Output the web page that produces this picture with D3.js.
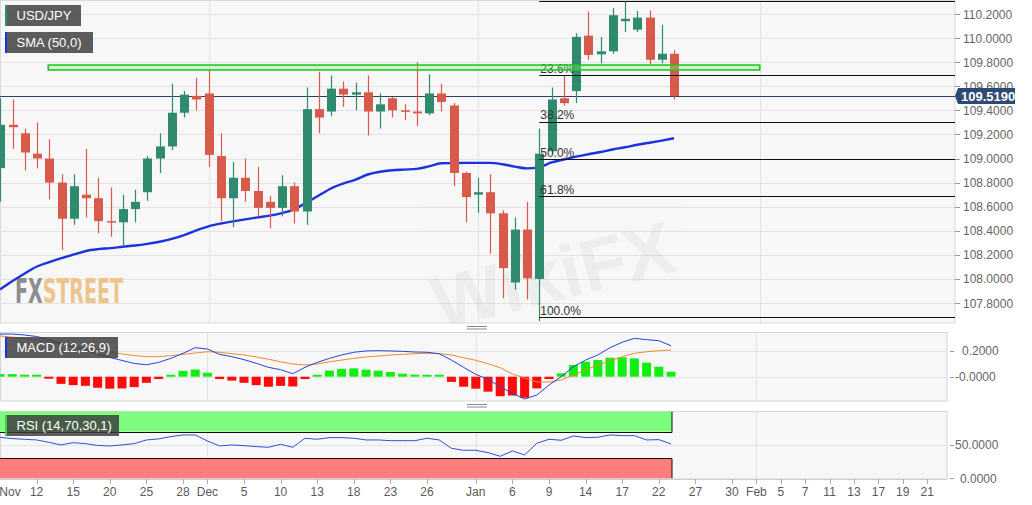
<!DOCTYPE html>
<html><head><meta charset="utf-8">
<script src="https://cdn.jsdelivr.net/npm/d3@7"></script>
<style>body{margin:0;background:#fff}svg{display:block;font-family:"Liberation Sans",Arial,sans-serif}</style>
</head><body><svg id="c" width="1032" height="505"></svg>
<script>
// ---------- DATA ----------
const dates = ["2019-11-07","2019-11-08","2019-11-11","2019-11-12","2019-11-13","2019-11-14","2019-11-15","2019-11-18","2019-11-19","2019-11-20","2019-11-21","2019-11-22","2019-11-25","2019-11-26","2019-11-27","2019-11-28","2019-11-29",
"2019-12-02","2019-12-03","2019-12-04","2019-12-05","2019-12-06","2019-12-09","2019-12-10","2019-12-11","2019-12-12","2019-12-13","2019-12-16","2019-12-17","2019-12-18","2019-12-19","2019-12-20","2019-12-23","2019-12-24","2019-12-25","2019-12-26","2019-12-27","2019-12-30","2019-12-31",
"2020-01-01","2020-01-02","2020-01-03","2020-01-06","2020-01-07","2020-01-08","2020-01-09","2020-01-10","2020-01-13","2020-01-14","2020-01-15","2020-01-16","2020-01-17","2020-01-20","2020-01-21","2020-01-22","2020-01-23"];
const openP  = [108.92,109.28,109.21,109.04,109.00,108.80,108.50,108.70,108.67,108.48,108.47,108.58,108.72,109.00,109.10,109.38,109.52,
109.54,109.02,108.67,108.84,108.73,108.64,108.59,108.77,108.56,109.41,109.39,109.58,109.53,109.55,109.39,109.50,109.40,109.39,109.375,109.54,109.44,108.88,
108.70,108.72,108.545,107.97,108.41,108.00,109.06,109.50,109.56,110.02,109.865,109.89,110.14,110.07,110.17,109.82,109.87];
const highP  = [109.50,109.49,109.25,109.30,109.16,108.87,108.87,109.08,108.84,108.76,108.70,108.74,109.02,109.21,109.62,109.56,109.67,
109.74,109.21,108.97,109.00,108.93,108.69,108.86,108.80,109.59,109.72,109.69,109.64,109.63,109.69,109.54,109.51,109.45,109.80,109.70,109.62,109.46,108.89,
108.84,108.87,108.57,108.51,108.64,109.25,109.59,109.69,110.04,110.22,110.01,110.25,110.30,110.225,110.23,110.11,109.90];
const lowP   = [108.64,109.08,108.90,108.92,108.66,108.24,108.45,108.51,108.38,108.35,108.27,108.47,108.65,108.88,109.07,109.34,109.40,
108.93,108.48,108.43,108.64,108.52,108.42,108.52,108.46,108.45,109.21,109.35,109.43,109.40,109.19,109.25,109.34,109.32,109.27,109.36,109.39,108.77,108.47,
108.55,108.21,107.84,107.91,107.83,107.65,109.04,109.44,109.46,109.82,109.79,109.87,110.05,110.05,109.78,109.79,109.49];
const closeP = [109.28,109.26,109.05,109.00,108.80,108.50,108.77,108.67,108.48,108.47,108.58,108.64,109.00,109.10,109.38,109.53,109.49,
109.03,108.67,108.84,108.73,108.59,108.59,108.77,108.56,109.41,109.34,109.58,109.53,109.55,109.39,109.45,109.40,109.39,109.375,109.54,109.47,108.88,108.68,
108.72,108.545,108.09,108.41,108.005,109.04,109.49,109.46,110.01,109.86,109.89,110.19,110.16,110.17,109.82,109.87,109.519];
const sma50 = [107.913,107.982,108.045,108.103,108.14,108.173,108.203,108.232,108.247,108.256,108.267,108.277,108.291,108.309,108.333,108.364,108.403,
108.437,108.46,108.478,108.495,108.511,108.526,108.547,108.578,108.634,108.693,108.751,108.792,108.825,108.867,108.89,108.902,108.908,108.914,108.935,108.96,108.962,108.964,
108.964,108.964,108.952,108.933,108.918,108.929,108.967,108.992,109.015,109.035,109.054,109.075,109.093,109.114,109.131,109.149,109.168];
const macdLine = [0.328,0.328,0.321,0.309,0.286,0.255,0.228,0.205,0.175,0.148,0.125,0.102,0.092,0.11,0.141,0.18,0.223,
0.213,0.172,0.154,0.131,0.103,0.072,0.054,0.023,0.072,0.11,0.141,0.167,0.188,0.198,0.2,0.198,0.195,0.19,0.188,0.177,0.128,0.072,
0.018,-0.02,-0.077,-0.128,-0.172,-0.141,-0.064,0,0.077,0.128,0.167,0.223,0.265,0.295,0.285,0.277,0.238];
const signalLine = [0.313,0.305,0.294,0.282,0.267,0.252,0.236,0.221,0.205,0.19,0.175,0.163,0.154,0.154,0.162,0.172,0.182,
0.192,0.188,0.177,0.167,0.152,0.134,0.115,0.098,0.09,0.098,0.115,0.128,0.141,0.152,0.159,0.167,0.172,0.177,0.18,0.177,0.167,0.146,
0.126,0.1,0.069,0.021,-0.01,-0.041,-0.041,-0.025,0.013,0.052,0.09,0.121,0.154,0.18,0.192,0.2,0.205];
const macdHist = [0.02,0.02,0.015,0.003,-0.012,-0.055,-0.065,-0.07,-0.085,-0.092,-0.09,-0.08,-0.047,-0.018,0.01,0.045,0.055,
0.03,-0.018,-0.03,-0.047,-0.065,-0.077,-0.07,-0.075,-0.018,0.005,0.047,0.06,0.064,0.054,0.046,0.036,0.023,0.013,0.013,0.01,-0.04,-0.077,
-0.092,-0.115,-0.15,-0.145,-0.162,-0.09,-0.018,0.026,0.09,0.115,0.128,0.146,0.149,0.141,0.108,0.077,0.038];
const rsi = [61.5,59.5,58.5,57.5,54,50,53.4,52,49.3,48.5,50,52,57.5,59,62.5,65,65,
56,48.5,50,49,47.5,46.5,51,46.5,60,58.5,61,61,60,57.5,57.5,56.4,56.4,56.4,60,57.5,45,42,
42,38.5,33,41,35,52.5,58.5,57,63.5,61,61.5,65,64,64,57.5,58,51.5];
const priceTicks = [107.8,108.0,108.2,108.4,108.6,108.8,109.0,109.2,109.4,109.6,109.8,110.0,110.2];
const macdTicks = [0, 0.2];
const macdTickLabels = ["-0.0000","0.2000"];
const rsiTicks = [0, 50];
const rsiTickLabels = ["0.0000","50.0000"];
const xTickLabels = ["Nov","12","15","20","25","28","Dec","5","10","13","18","23","26","Jan","6","9","14","17","22","27","30","Feb","5","7","11","13","17","19","21"];
const xTickIndex  = [-4,3,6,9,12,15,17,20,23,26,29,32,35,39,42,45,48,51,54,57,60,62,64,66,68,70,72,74,76];
const monthStartIndex = [17,39,62];
const fibLevels = [0,23.6,38.2,50,61.8,100];
const fibHigh = 110.31, fibLow = 107.68, fibStartIndex = 44;
const zoneRange = [109.735,109.776], zoneIndex = [4,62];
const lastPrice = 109.519;

// ---------- SCALES ----------
const N = dates.length;
const svg = d3.select("#c");
const xM = d3.scaleLinear().domain([0,N-1]).range([0.25,674]);
const xL = d3.scaleLinear().domain([0,N-1]).range([0,671]);
const yM = d3.scaleLinear().domain([107.8,110.2]).range([303,14]);
const yMacd = d3.scaleLinear().domain([0,0.2]).range([376.7,350.7]);
const yRsi = d3.scaleLinear().domain([0,100]).range([478.3,411.6]);
const W = 955, WL = 947;
const GREEN="#2f8a6e", RED="#d75a4a", GRID="#e3e3e3";

const defs = svg.append("defs");
defs.append("clipPath").attr("id","cm").append("rect").attr("x",0).attr("y",0.5).attr("width",W).attr("height",322.5);
defs.append("clipPath").attr("id","cmacd").append("rect").attr("x",0).attr("y",332).attr("width",WL).attr("height",69);

// ---------- MAIN PANEL ----------
svg.append("rect").attr("x",0.5).attr("y",0.5).attr("width",W-0.5).attr("height",322.5).attr("fill","#f7f7f7").attr("stroke","#d9d9d9");
const gm = svg.append("g").attr("clip-path","url(#cm)");
gm.selectAll(".hg").data(priceTicks).join("line").attr("x1",0).attr("x2",W)
  .attr("y1",d=>Math.round(yM(d))+0.5).attr("y2",d=>Math.round(yM(d))+0.5).attr("stroke",GRID);
gm.selectAll(".vg").data(monthStartIndex).join("line").attr("y1",0).attr("y2",323)
  .attr("x1",d=>Math.round(xM(d))+0.5).attr("x2",d=>Math.round(xM(d))+0.5).attr("stroke",GRID);

// watermarks
const wmFont = "'DejaVu Sans Condensed','Liberation Sans Narrow',sans-serif";
const fx = gm.append("text").attr("x",15).attr("y",303).attr("font-family",wmFont).attr("font-weight","bold").attr("font-size",34)
  .attr("textLength",108).attr("lengthAdjust","spacingAndGlyphs");
fx.append("tspan").attr("fill","#8d8d8d").text("FX");
fx.append("tspan").attr("fill","#efc48c").text("STREET");
gm.append("text").attr("x",440).attr("y",330).attr("transform","rotate(-14 440 330)").attr("font-size",74).attr("font-weight","bold")
  .attr("fill","#9a9a9a").attr("opacity",0.1).text("WikiFX");

// last price line
gm.append("line").attr("x1",0).attr("x2",W).attr("y1",Math.round(yM(lastPrice))+0.5).attr("y2",Math.round(yM(lastPrice))+0.5).attr("stroke","#2d4262");

// SMA
gm.append("path").datum(sma50).attr("fill","none").attr("stroke","#1b33dd").attr("stroke-width",2.4)
  .attr("d",d3.line().x((d,i)=>xM(i)).y(d=>yM(d)).curve(d3.curveMonotoneX));

// candles
const cg = gm.selectAll(".cd").data(d3.range(N)).join("g");
cg.append("line").attr("x1",i=>Math.round(xM(i))+0.5).attr("x2",i=>Math.round(xM(i))+0.5)
  .attr("y1",i=>yM(highP[i])).attr("y2",i=>yM(lowP[i])).attr("stroke",i=>closeP[i]>=openP[i]?GREEN:RED).attr("stroke-width",1.2);
cg.append("rect").attr("x",i=>Math.round(xM(i))-4).attr("width",9)
  .attr("y",i=>yM(Math.max(openP[i],closeP[i])))
  .attr("height",i=>Math.max(1.5,Math.abs(yM(openP[i])-yM(closeP[i]))))
  .attr("fill",i=>closeP[i]>=openP[i]?GREEN:RED);

// fib
const fibVal = l => fibHigh - (fibHigh-fibLow)*l/100;
gm.selectAll(".fl").data(fibLevels).join("line").attr("x1",xM(fibStartIndex)).attr("x2",W)
  .attr("y1",d=>Math.round(yM(fibVal(d)))+0.5).attr("y2",d=>Math.round(yM(fibVal(d)))+0.5).attr("stroke","#111").attr("stroke-width",1.2);
gm.selectAll(".ft").data(fibLevels.filter(d=>d>0)).join("text").attr("x",xM(fibStartIndex)+1).attr("y",d=>yM(fibVal(d))-2.5)
  .attr("font-size",12).attr("fill","#333").text(d=>d.toFixed(1)+"%");

// zone
gm.append("rect").attr("x",xM(zoneIndex[0])-1).attr("width",xM(zoneIndex[1])-xM(zoneIndex[0])+1)
  .attr("y",yM(zoneRange[1])).attr("height",yM(zoneRange[0])-yM(zoneRange[1]))
  .attr("fill","#9aea9a").attr("fill-opacity",0.35).attr("stroke","#1ecb1e").attr("stroke-width",1.6);

// right axis
svg.selectAll(".pt").data(priceTicks).join("line").attr("x1",W).attr("x2",W+5)
  .attr("y1",d=>Math.round(yM(d))+0.5).attr("y2",d=>Math.round(yM(d))+0.5).attr("stroke","#999");
svg.selectAll(".pl").data(priceTicks).join("text").attr("x",963).attr("y",d=>yM(d)+4.5)
  .attr("font-size",12).attr("fill","#666").text(d=>d.toFixed(4));
const ly = yM(lastPrice);
svg.append("path").attr("d",`M${W},${ly} L${W+3},${ly-8} L1015,${ly-8} L1015,${ly+8} L${W+3},${ly+8} Z`).attr("fill","#2c4a73");
svg.append("text").attr("x",961).attr("y",ly+5).attr("font-size",13).attr("font-weight","bold").attr("fill","#fff").text(lastPrice.toFixed(4));

// label boxes
function labelBox(x,y,w,text,strip){
  svg.append("rect").attr("x",x).attr("y",y).attr("width",w).attr("height",21).attr("fill","rgba(62,62,62,0.84)");
  svg.append("rect").attr("x",x).attr("y",y).attr("width",2).attr("height",21).attr("fill",strip);
  svg.append("text").attr("x",x+11.5).attr("y",y+15).attr("font-size",13).attr("fill","#fff").text(text);
}
labelBox(5,5,76,"USD/JPY",GREEN);
labelBox(5,32,88,"SMA (50,0)","#1b33dd");

// handles
function handle(y){ [0,2.5].forEach(o=>svg.append("line").attr("x1",467).attr("x2",487).attr("y1",y+o).attr("y2",y+o).attr("stroke","#888"));}
handle(326.5); handle(404.5);

// ---------- MACD PANEL ----------
svg.append("rect").attr("x",0.5).attr("y",332.5).attr("width",WL-0.5).attr("height",68.5).attr("fill","#f7f7f7").attr("stroke","#d5d5d5");
const gd = svg.append("g").attr("clip-path","url(#cmacd)");
gd.selectAll(".hg").data(macdTicks).join("line").attr("x1",0).attr("x2",WL)
  .attr("y1",d=>Math.round(yMacd(d))+0.5).attr("y2",d=>Math.round(yMacd(d))+0.5).attr("stroke",GRID);
gd.selectAll(".vg").data(monthStartIndex).join("line").attr("y1",332).attr("y2",401)
  .attr("x1",d=>Math.round(xL(d))+0.5).attr("x2",d=>Math.round(xL(d))+0.5).attr("stroke",GRID);
gd.selectAll(".hb").data(macdHist).join("rect").attr("x",(d,i)=>xL(i)-4.5).attr("width",9)
  .attr("y",d=>d>=0?yMacd(d)-(Math.abs(yMacd(d)-yMacd(0))<2?2-Math.abs(yMacd(d)-yMacd(0)):0):yMacd(0))
  .attr("height",d=>Math.max(2,Math.abs(yMacd(d)-yMacd(0))))
  .attr("fill",d=>d>=0?"#11ee11":"#ff0a0a");
labelBox(5,337,113,"MACD (12,26,9)","#1b33dd");
gd.append("path").datum(signalLine).attr("fill","none").attr("stroke","#f08a2c").attr("stroke-width",1)
  .attr("d",d3.line().x((d,i)=>xL(i)).y(d=>yMacd(d)));
gd.append("path").datum(macdLine).attr("fill","none").attr("stroke","#2544d6").attr("stroke-width",1)
  .attr("d",d3.line().x((d,i)=>xL(i)).y(d=>yMacd(d)));
svg.selectAll(".mt").data(macdTicks).join("line").attr("x1",WL+3).attr("x2",WL+7)
  .attr("y1",d=>Math.round(yMacd(d))+0.5).attr("y2",d=>Math.round(yMacd(d))+0.5).attr("stroke","#999");
svg.selectAll(".ml").data(macdTicks).join("text").attr("x",(d,i)=>i===0?955:962).attr("y",d=>yMacd(d)+4.5)
  .attr("font-size",12).attr("fill","#666").text((d,i)=>macdTickLabels[i]);

// ---------- RSI PANEL ----------
svg.append("rect").attr("x",0.5).attr("y",411.5).attr("width",WL-0.5).attr("height",67.5).attr("fill","#f7f7f7").attr("stroke","#d5d5d5");
svg.selectAll(".rv").data(monthStartIndex).join("line").attr("y1",411).attr("y2",479)
  .attr("x1",d=>Math.round(xL(d))+0.5).attr("x2",d=>Math.round(xL(d))+0.5).attr("stroke",GRID);
svg.selectAll(".rg").data(rsiTicks).join("line").attr("x1",0).attr("x2",WL)
  .attr("y1",d=>Math.round(yRsi(d))+0.5).attr("y2",d=>Math.round(yRsi(d))+0.5).attr("stroke",GRID);
const bandEnd = xL(N-1)+1;
svg.append("rect").attr("x",0).attr("y",yRsi(100)).attr("width",bandEnd).attr("height",yRsi(70)-yRsi(100)).attr("fill","#7dfc7d");
svg.append("rect").attr("x",0).attr("y",yRsi(30)).attr("width",bandEnd).attr("height",yRsi(0)-yRsi(30)).attr("fill","#ff7d7d");
svg.append("path").attr("d",`M0,${Math.round(yRsi(70))+0.5} H${bandEnd} V${yRsi(100)}`).attr("fill","none").attr("stroke","#111");
svg.append("path").attr("d",`M0,${Math.round(yRsi(30))+0.5} H${bandEnd} V${yRsi(0)}`).attr("fill","none").attr("stroke","#111");
svg.append("path").datum(rsi).attr("fill","none").attr("stroke","#3150d4").attr("stroke-width",1)
  .attr("d",d3.line().x((d,i)=>xL(i)).y(d=>yRsi(d)));
svg.selectAll(".rt").data(rsiTicks).join("line").attr("x1",WL+3).attr("x2",WL+7)
  .attr("y1",d=>Math.round(yRsi(d))+0.5).attr("y2",d=>Math.round(yRsi(d))+0.5).attr("stroke","#999");
svg.selectAll(".rl").data(rsiTicks).join("text").attr("x",(d,i)=>i===0?960:955).attr("y",d=>yRsi(d)+4.5)
  .attr("font-size",12).attr("fill","#666").text((d,i)=>rsiTickLabels[i]);
labelBox(5,415,114,"RSI (14,70,30,1)","#44cc44");

// ---------- X AXIS ----------
svg.append("line").attr("x1",0).attr("x2",WL).attr("y1",479.5).attr("y2",479.5).attr("stroke","#cfcfcf");
const ticks = xTickLabels.map((t,k)=>({t,x:xL(xTickIndex[k])}));
svg.selectAll(".xt").data(ticks.filter(d=>d.x>=0)).join("line").attr("x1",d=>Math.round(d.x)+0.5).attr("x2",d=>Math.round(d.x)+0.5)
  .attr("y1",479).attr("y2",484).attr("stroke","#aaa");
svg.selectAll(".xl").data(ticks).join("text").attr("x",d=>Math.max(10,d.x)).attr("y",496).attr("text-anchor","middle")
  .attr("font-size",12).attr("fill","#5a5a5a").text(d=>d.t);
</script></body></html>
